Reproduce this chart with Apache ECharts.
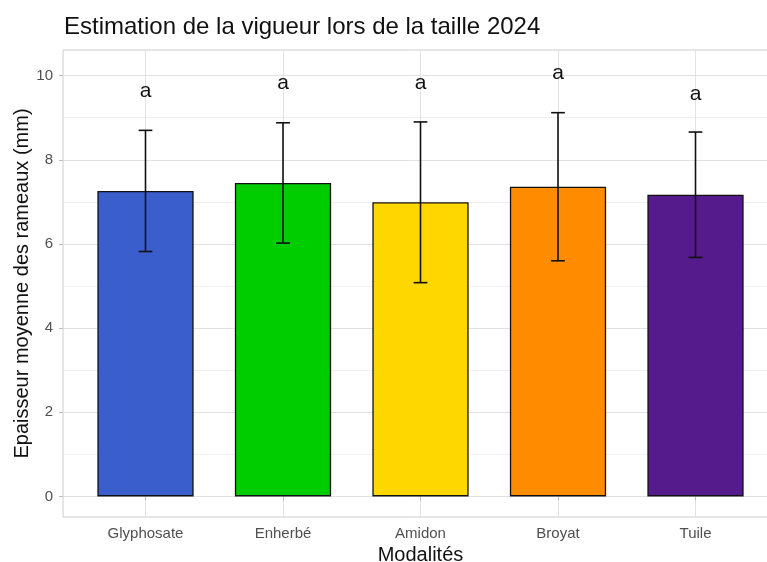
<!DOCTYPE html>
<html><head><meta charset="utf-8">
<script src="https://cdn.jsdelivr.net/npm/echarts@6/dist/echarts.min.js"></script>
<style>html,body{margin:0;padding:0;background:#fff;overflow:hidden}#c{width:767px;height:562px}</style>
</head><body><div id="c"></div>
<script>
const categories = ['Glyphosate', 'Enherbé', 'Amidon', 'Broyat', 'Tuile'];
const xPositions = [1, 2, 3, 4, 5];
const means = [7.26, 7.45, 6.99, 7.36, 7.17];
const lower = [5.82, 6.02, 5.08, 5.60, 5.68];
const upper = [8.70, 8.88, 8.90, 9.12, 8.66];
const letters = ['a', 'a', 'a', 'a', 'a'];
const letterY = [9.63, 9.81, 9.83, 10.06, 9.57];
const barColors = ['#3A5FCD', '#00CD00', '#FFD700', '#FF8C00', '#551A8B'];
const yTicks = [0, 2, 4, 6, 8, 10];
const yMinor = [1, 3, 5, 7, 9];

const FONT = '"Liberation Sans", Arial, sans-serif';
const chart = echarts.init(document.getElementById('c'), null, {renderer: 'canvas'});

const option = {
  animation: false,
  backgroundColor: '#ffffff',
  textStyle: {fontFamily: FONT},
  title: {
    text: 'Estimation de la vigueur lors de la taille 2024',
    left: 59, top: 10,
    textStyle: {fontFamily: FONT, fontSize: 24, fontWeight: 'normal', color: '#111'}
  },
  grid: {
    left: 63, width: 715, top: 50, bottom: 45,
    outerBoundsMode: 'none', containLabel: false,
    show: true, borderColor: '#cccccc', borderWidth: 1, backgroundColor: 'transparent'
  },
  xAxis: {
    type: 'value', min: 0.4, max: 5.6,
    axisLine: {show: false},
    axisTick: {show: true, customValues: xPositions, length: 4, lineStyle: {color: '#bdbdbd'}},
    axisLabel: {
      customValues: xPositions, margin: 9, color: '#505050', fontSize: 15, fontFamily: FONT,
      formatter: v => categories[Math.round(v) - 1]
    },
    splitLine: {show: true, lineStyle: {color: '#e2e2e2', width: 1}},
    name: 'Modalités', nameLocation: 'middle', nameGap: 28, nameMoveOverlap: false,
    nameTextStyle: {fontSize: 20, color: '#111', fontFamily: FONT}
  },
  yAxis: [{
    type: 'value', min: -0.49, max: 10.61,
    axisLine: {show: false},
    axisTick: {show: true, customValues: yTicks, length: 4, lineStyle: {color: '#bdbdbd'}},
    axisLabel: {customValues: yTicks, margin: 10, color: '#505050', fontSize: 15, fontFamily: FONT},
    splitLine: {show: true, lineStyle: {color: '#e2e2e2', width: 1}},
    name: 'Epaisseur moyenne des rameaux (mm)', nameLocation: 'middle', nameGap: 31,
    nameMoveOverlap: false,
    nameTextStyle: {fontSize: 20, color: '#111', fontFamily: FONT}
  }, {
    type: 'value', min: -0.49, max: 10.61, position: 'left',
    axisLine: {show: false},
    axisTick: {show: false, customValues: yMinor},
    axisLabel: {show: false, customValues: yMinor},
    splitLine: {show: true, lineStyle: {color: '#f0f0f0', width: 1}}
  }],
  series: [{
    type: 'bar',
    barWidth: '70%',
    z: 2,
    data: xPositions.map((x, i) => ({
      value: [x, means[i]],
      itemStyle: {color: barColors[i], borderColor: '#111', borderWidth: 1.3}
    }))
  }, {
    type: 'custom',
    z: 3,
    data: xPositions.map((x, i) => [x, lower[i], upper[i]]),
    renderItem: (params, api) => {
      const x = api.value(0);
      const pLo = api.coord([x, api.value(1)]);
      const pHi = api.coord([x, api.value(2)]);
      const hw = api.size([0.1, 0])[0] / 2;
      const st = {stroke: '#111', lineWidth: 1.6};
      return {type: 'group', children: [
        {type: 'line', shape: {x1: pLo[0], y1: pLo[1], x2: pHi[0], y2: pHi[1]}, style: st},
        {type: 'line', shape: {x1: pLo[0] - hw, y1: pLo[1], x2: pLo[0] + hw, y2: pLo[1]}, style: st},
        {type: 'line', shape: {x1: pHi[0] - hw, y1: pHi[1], x2: pHi[0] + hw, y2: pHi[1]}, style: st}
      ]};
    }
  }, {
    type: 'custom',
    z: 4,
    data: xPositions.map((x, i) => [x, letterY[i], i]),
    renderItem: (params, api) => {
      const p = api.coord([api.value(0), api.value(1)]);
      return {type: 'text', x: p[0], y: p[1], style: {
        text: letters[api.value(2)], fill: '#111', fontSize: 21, fontFamily: FONT,
        align: 'center', verticalAlign: 'middle'
      }};
    }
  }]
};
chart.setOption(option);
</script>
</body></html>
